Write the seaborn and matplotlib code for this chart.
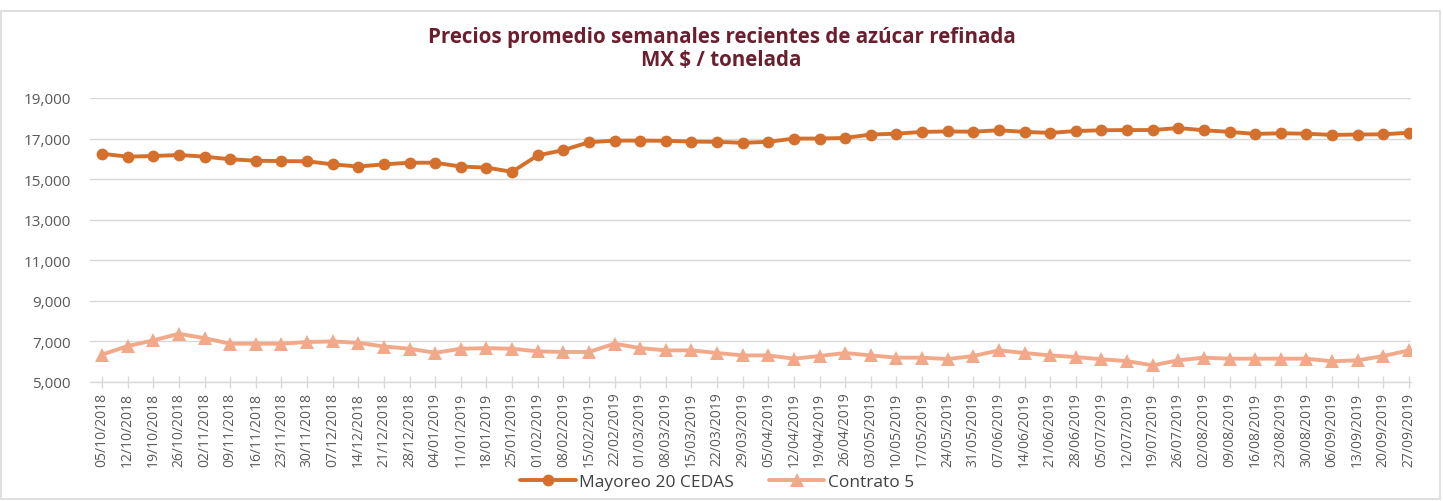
import matplotlib
matplotlib.use("Agg")
import matplotlib.pyplot as plt
import matplotlib.patches as mpatches
import seaborn as sns
import pandas as pd
import numpy as np

semanas = [d.strftime("%d/%m/%Y") for d in pd.date_range("2018-10-05", "2019-09-27", freq="7D")]

mayoreo = [16250, 16110, 16140, 16190, 16110, 15980, 15910, 15890, 15880, 15730,
           15620, 15730, 15810, 15810, 15620, 15570, 15360, 16170, 16430, 16820,
           16900, 16900, 16890, 16850, 16840, 16790, 16840, 17000, 17000, 17030,
           17200, 17240, 17330, 17350, 17340, 17410, 17330, 17280, 17370, 17410,
           17420, 17420, 17520, 17410, 17330, 17230, 17260, 17240, 17180, 17200,
           17210, 17290]

contrato5 = [6350, 6770, 7050, 7380, 7160, 6890, 6890, 6890, 6970, 7000,
             6930, 6750, 6640, 6440, 6640, 6670, 6640, 6510, 6480, 6480,
             6890, 6670, 6560, 6560, 6430, 6310, 6310, 6150, 6280, 6430,
             6310, 6200, 6200, 6130, 6280, 6560, 6430, 6310, 6230, 6120,
             6030, 5820, 6070, 6200, 6150, 6150, 6150, 6150, 6020, 6070,
             6280, 6560]

series_names = ["Mayoreo 20 CEDAS", "Contrato 5"]
yticks = [5000, 7000, 9000, 11000, 13000, 15000, 17000, 19000]

df = pd.DataFrame({
    "idx": list(range(len(semanas))) * 2,
    "valor": mayoreo + contrato5,
    "serie": [series_names[0]] * len(mayoreo) + [series_names[1]] * len(contrato5),
})

sns.set_theme(style="white")
plt.rcParams["font.family"] = ["Open Sans", "DejaVu Sans"]

W, H = 1443, 502
fig = plt.figure(figsize=(W / 100, H / 100), dpi=100)
ax = fig.add_axes([90 / W, 1 - 383 / H, (1411 - 90) / W, (383 - 99) / H])

c_may = "#D4702C"
c_con = "#F2A98A"
sns.lineplot(data=df[df.serie == series_names[0]], x="idx", y="valor", ax=ax,
             color=c_may, linewidth=2.8, marker="o", markersize=8.5,
             markeredgewidth=0, label=series_names[0])
sns.lineplot(data=df[df.serie == series_names[1]], x="idx", y="valor", ax=ax,
             color=c_con, linewidth=2.8, marker="^", markersize=10,
             markeredgewidth=0, label=series_names[1])

ax.set_ylim(5000, 19000)
ax.set_yticks(yticks)
ax.set_yticklabels([f"{v:,}" for v in yticks], fontsize=11, color="#595959")
ax.set_xlim(-0.47, len(semanas) - 0.92)
ax.set_xticks(range(len(semanas)))
ax.set_xticklabels(semanas, rotation=90, fontsize=10, color="#595959")
ax.set_xlabel("")
ax.set_ylabel("")
ax.grid(axis="y", color="#D9D9D9", linewidth=1)
for s in ["top", "right", "left"]:
    ax.spines[s].set_visible(False)
ax.spines["bottom"].set_color("#D9D9D9")
ax.spines["bottom"].set_linewidth(1)
ax.tick_params(axis="x", which="major", direction="inout", length=8, width=1,
               color="#D9D9D9", pad=3, bottom=True)
ax.tick_params(axis="y", length=0, pad=14)

handles, labels = ax.get_legend_handles_labels()
ax.get_legend().remove()
leg = fig.legend(handles, labels, loc="center", bbox_to_anchor=(0.497, 1 - 483 / H), ncol=2,
                 frameon=False, fontsize=12.5, handlelength=3.2, columnspacing=2.0,
                 handletextpad=0.2, borderpad=0.1)
for t in leg.get_texts():
    t.set_color("#404040")

fig.text(0.5, 1 - 37 / H, "Precios promedio semanales recientes de azúcar refinada",
         ha="center", va="center", fontsize=14.8, fontweight="bold", color="#6B1F2E")
fig.text(0.5, 1 - 61 / H, "MX $ / tonelada",
         ha="center", va="center", fontsize=14.8, fontweight="bold", color="#6B1F2E")

fig.patches.append(mpatches.Rectangle((0.001, 0.003), 0.997, 0.973, transform=fig.transFigure,
                                      fill=False, edgecolor="#D9D9D9", linewidth=1.2))

fig.savefig("out.png", dpi=100)
